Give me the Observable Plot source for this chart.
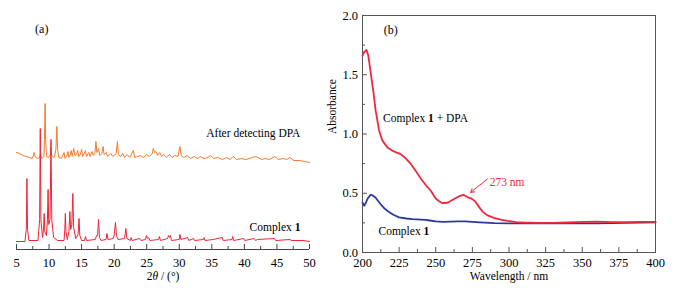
<!DOCTYPE html>
<html><head><meta charset="utf-8">
<script src="https://cdn.jsdelivr.net/npm/d3@7"></script>
<script src="https://cdn.jsdelivr.net/npm/@observablehq/plot@0.6"></script>
<style>
body{margin:0;background:#fff;}
#wrap{position:relative;width:674px;height:296px;background:#fff;}
#wrap svg{position:absolute;top:0;overflow:visible;}
</style></head><body><div id="wrap"></div>
<script>
// ---- Panel (a): PXRD patterns, [2θ (°), intensity (a.u.)] ----
const complex1Pattern = [
[5,8],[6.3,8],[6.5,20],[6.6,71],[6.7,20],[6.9,9],[8.3,9],[8.55,30],[8.65,121],[8.75,30],[9.0,12],
[9.15,20],[9.25,36],[9.35,18],[9.6,14],[9.75,30],[9.85,60],[9.95,25],[10.15,30],[10.3,110],[10.42,30],
[10.7,12],[11.3,9],[12.3,9],[12.42,20],[12.5,36],[12.6,18],[12.8,10],[13.05,18],[13.2,38],[13.32,20],
[13.5,25],[13.65,56],[13.78,22],[14.1,11],[14.45,15],[14.6,31],[14.72,14],[15.0,9],[15.45,9],[15.6,13],
[15.75,9],[17.1,10],[17.3,14],[17.45,14],[17.6,30],[17.75,12],[18.0,9],[18.75,10],[18.9,16],[19.05,10],
[19.85,11],[20.0,14],[20.2,27],[20.35,14],[20.6,10],[21.6,11],[21.8,21],[21.95,11],[22.5,9],[22.6,12],
[22.75,9],[23.9,11],[24.1,9],[24.8,10],[24.95,14],[25.1,11],[25.3,12],[25.5,9],[26.8,10],[26.95,13],
[27.1,9],[28.2,11],[28.35,14],[28.5,12],[28.65,14],[28.8,9],[30.0,10],[30.1,15],[30.25,10],[31.3,12],
[31.45,9],[32.2,11],[32.35,9],[33.7,10],[33.8,12],[33.95,9],[35.2,10],[36.6,12],[36.75,9],[38.1,10],
[38.2,13],[38.35,9],[39.9,11],[40.05,9],[41.5,11],[41.7,9],[42.0,10],[44.6,11],[44.8,9],[47.0,10],
[47.2,9],[49.0,9],[50,8]
];
const afterDpaPattern = [
[5,97],[5.5,96],[6.0,94],[6.5,93],[7.0,92],[7.4,91],[7.6,94],[7.7,97],[7.85,93],[8.2,91],[8.55,92],
[8.7,96],[8.85,91],[9.2,93],[9.3,110],[9.39,146],[9.48,110],[9.6,93],[9.9,92],[10.2,95],[10.3,102],
[10.4,94],[10.8,92],[11.05,100],[11.2,123],[11.32,100],[11.5,92],[11.9,91],[12.3,97],[12.45,91],
[12.7,93],[12.9,98],[13.05,92],[13.25,95],[13.4,99],[13.55,93],[13.8,101],[13.95,94],[14.2,95],
[14.4,99],[14.55,93],[14.8,95],[15.0,100],[15.15,93],[15.4,96],[15.6,99],[15.75,93],[16.1,97],
[16.3,93],[16.6,98],[16.8,94],[17.05,97],[17.2,108],[17.35,97],[17.6,101],[17.8,94],[18.1,96],
[18.3,103],[18.45,95],[18.8,97],[19.0,93],[19.5,96],[19.8,93],[20.3,96],[20.5,108],[20.65,95],
[21.0,93],[21.3,96],[21.6,92],[22.0,95],[22.4,92],[22.95,99],[23.15,92],[23.6,93],[24.0,94],
[24.5,92],[25.0,95],[25.4,93],[25.85,96],[26.0,101],[26.2,97],[26.4,98],[26.7,94],[27.0,97],
[27.3,93],[27.6,95],[28.0,92],[28.5,95],[28.9,92],[29.3,94],[29.8,93],[30.1,103],[30.3,94],
[30.7,92],[31.2,94],[31.7,91],[32.3,93],[32.8,91],[33.2,93],[33.8,91],[34.4,92],[34.8,94],
[35.3,91],[36.0,92],[36.6,90],[37.3,92],[37.8,90],[38.3,93],[38.8,90],[39.5,91],[40.2,90],
[40.8,91],[41.6,93],[42.1,92],[42.6,90],[43.2,91],[43.8,90],[44.7,93],[45.2,90],[46.0,91],
[46.5,90],[47.0,92],[47.6,89],[48.5,89],[49.2,88],[50,87]
];
const thetaMajorTicks = [5,10,15,20,25,30,35,40,45,50];
const thetaMinorTicks = [7.5,12.5,17.5,22.5,27.5,32.5,37.5,42.5,47.5];

// ---- Panel (b): UV-vis absorbance, [wavelength (nm), absorbance] ----
const complex1DpaUV = [
[200,1.66],[201,1.69],[202.7,1.71],[204,1.66],[205.7,1.507],[207.5,1.35],[209,1.197],[211.3,1.03],
[213.6,0.944],[217,0.887],[220,0.862],[223,0.845],[226,0.83],[229,0.80],[233,0.747],[236.5,0.685],
[240,0.62],[243.5,0.565],[246.6,0.521],[250,0.456],[252.5,0.43],[254.5,0.417],[258,0.42],[262.5,0.451],
[266,0.475],[268.8,0.487],[271.6,0.468],[274.5,0.455],[277,0.43],[279.5,0.385],[282,0.345],[285,0.315],
[289.7,0.292],[295,0.275],[299,0.267],[305,0.257],[310,0.253],[320,0.250],[330,0.250],[340,0.253],
[351,0.258],[360,0.260],[370,0.257],[380,0.256],[390,0.258],[400,0.258]
];
const complex1UV = [
[200,0.42],[200.5,0.41],[201.2,0.395],[202.3,0.42],[203.5,0.455],[205.5,0.487],[206.5,0.485],
[208.9,0.465],[210,0.445],[212.3,0.409],[214.8,0.375],[216.9,0.352],[219.6,0.33],[221.4,0.316],
[225,0.296],[230,0.287],[234,0.282],[240,0.278],[243,0.276],[246,0.27],[250,0.262],[255,0.259],
[260,0.261],[265,0.262],[270,0.262],[275,0.259],[280,0.255],[290,0.248],[300,0.245],[320,0.245],
[340,0.245],[360,0.246],[380,0.250],[400,0.254]
];
const wlMajorTicks = [200,225,250,275,300,325,350,375,400];
const wlMinorTicks = [212.5,237.5,262.5,287.5,312.5,337.5,362.5,387.5];
const absMajorTicks = [0,0.5,1,1.5,2];
const absMinorTicks = [0.25,0.75,1.25,1.75];

const FONT = "'Liberation Serif', 'Times New Roman', serif";
const toRows = arr => arr.map(([x, y]) => ({x, y}));

// ---------- Panel (a) ----------
const plotA = Plot.plot({
  width: 320, height: 296,
  marginLeft: 16, marginRight: 11, marginTop: 9, marginBottom: 47,
  style: {fontFamily: FONT, fontSize: "12px", color: "#000", background: "transparent"},
  x: {domain: [5, 50]},
  y: {domain: [0, 240], axis: null},
  marks: [
    Plot.ruleY([0], {stroke: "#444", strokeWidth: 1}),
    Plot.axisX(thetaMajorTicks, {tickSize: -5, tickPadding: 13.5, stroke: "#444", label: null, tickFormat: d => d, fontSize: 12.5}),
    Plot.axisX(thetaMinorTicks, {tickSize: -3, text: null, stroke: "#444", label: null}),
    Plot.line(toRows(afterDpaPattern), {x: "x", y: "y", stroke: "#f47b2a", strokeWidth: 1}),
    Plot.line(toRows(complex1Pattern), {x: "x", y: "y", stroke: "#ee2436", strokeWidth: 1}),
    Plot.text(["(a)"], {x: 8.88, y: 220, text: d => d, fontSize: 12}),
    Plot.text(["After detecting DPA"], {x: 48.6, y: 116, text: d => d, textAnchor: "end", fontSize: 11.5}),
    Plot.text(["Complex 1"], {x: 48.6, y: 22, text: d => d, textAnchor: "end", fontSize: 11.5}),
    Plot.text(["2θ / (°)"], {frameAnchor: "bottom", dy: 30, text: d => d, fontSize: 11.5})
  ]
});

// ---------- Panel (b) ----------
const plotB = Plot.plot({
  width: 354, height: 296,
  marginLeft: 42, marginRight: 19, marginTop: 15, marginBottom: 44,
  style: {fontFamily: FONT, fontSize: "12px", color: "#000", background: "transparent"},
  x: {domain: [200, 400]},
  y: {domain: [0, 2]},
  marks: [
    Plot.frame({stroke: "#555", strokeWidth: 1}),
    Plot.axisX(wlMajorTicks, {tickSize: -5, tickPadding: 10.5, stroke: "#555", label: null, tickFormat: d => d, fontSize: 12.5}),
    Plot.axisX(wlMinorTicks, {tickSize: -3, text: null, stroke: "#555", label: null}),
    Plot.axisY(absMajorTicks, {tickSize: -5, tickPadding: 9.4, stroke: "#555", label: null, tickFormat: d3.format(".1f"), fontSize: 12.5}),
    Plot.axisY(absMinorTicks, {tickSize: -3, text: null, stroke: "#555", label: null}),
    Plot.line(toRows(complex1UV), {x: "x", y: "y", stroke: "#2b3a97", strokeWidth: 1.8}),
    Plot.line(toRows(complex1DpaUV), {x: "x", y: "y", stroke: "#ef2a3c", strokeWidth: 1.8}),
    Plot.arrow([0], {x1: 285.2, y1: 0.62, x2: 273.8, y2: 0.507, stroke: "#ef2a3c", strokeWidth: 1, headLength: 6}),
    Plot.text(["273 nm"], {x: 286.8, y: 0.591, text: d => d, textAnchor: "start", fill: "#ef2a3c", fontSize: 11.5}),
    Plot.text(["(b)"], {x: 219.3, y: 1.873, text: d => d, fontSize: 12}),
    Plot.text(["Complex 1 + DPA"], {x: 214.0, y: 1.13, text: d => d, textAnchor: "start", fontSize: 11.5}),
    Plot.text(["Complex 1"], {x: 210.9, y: 0.183, text: d => d, textAnchor: "start", fontSize: 11.5}),
    Plot.text(["Absorbance"], {frameAnchor: "left", dx: -30, rotate: -90, text: d => d, fontSize: 11.5}),
    Plot.text(["Wavelength / nm"], {frameAnchor: "bottom", dy: 27.5, text: d => d, fontSize: 11.5})
  ]
});

// rich text: bold "1", italic θ
function enrich(svg) {
  d3.select(svg).selectAll("text").each(function() {
    const t = this.textContent;
    if (t === "Complex 1") this.innerHTML = 'Complex <tspan font-weight="bold">1</tspan>';
    else if (t === "Complex 1 + DPA") this.innerHTML = 'Complex <tspan font-weight="bold">1</tspan> + DPA';
    else if (t === "2θ / (°)") this.innerHTML = '2<tspan font-style="italic">θ</tspan> / (°)';
  });
}
enrich(plotA); enrich(plotB);
plotA.style.left = "0px";
plotB.style.left = "320px";
const wrap = document.getElementById("wrap");
wrap.appendChild(plotA);
wrap.appendChild(plotB);
</script>
</body></html>
